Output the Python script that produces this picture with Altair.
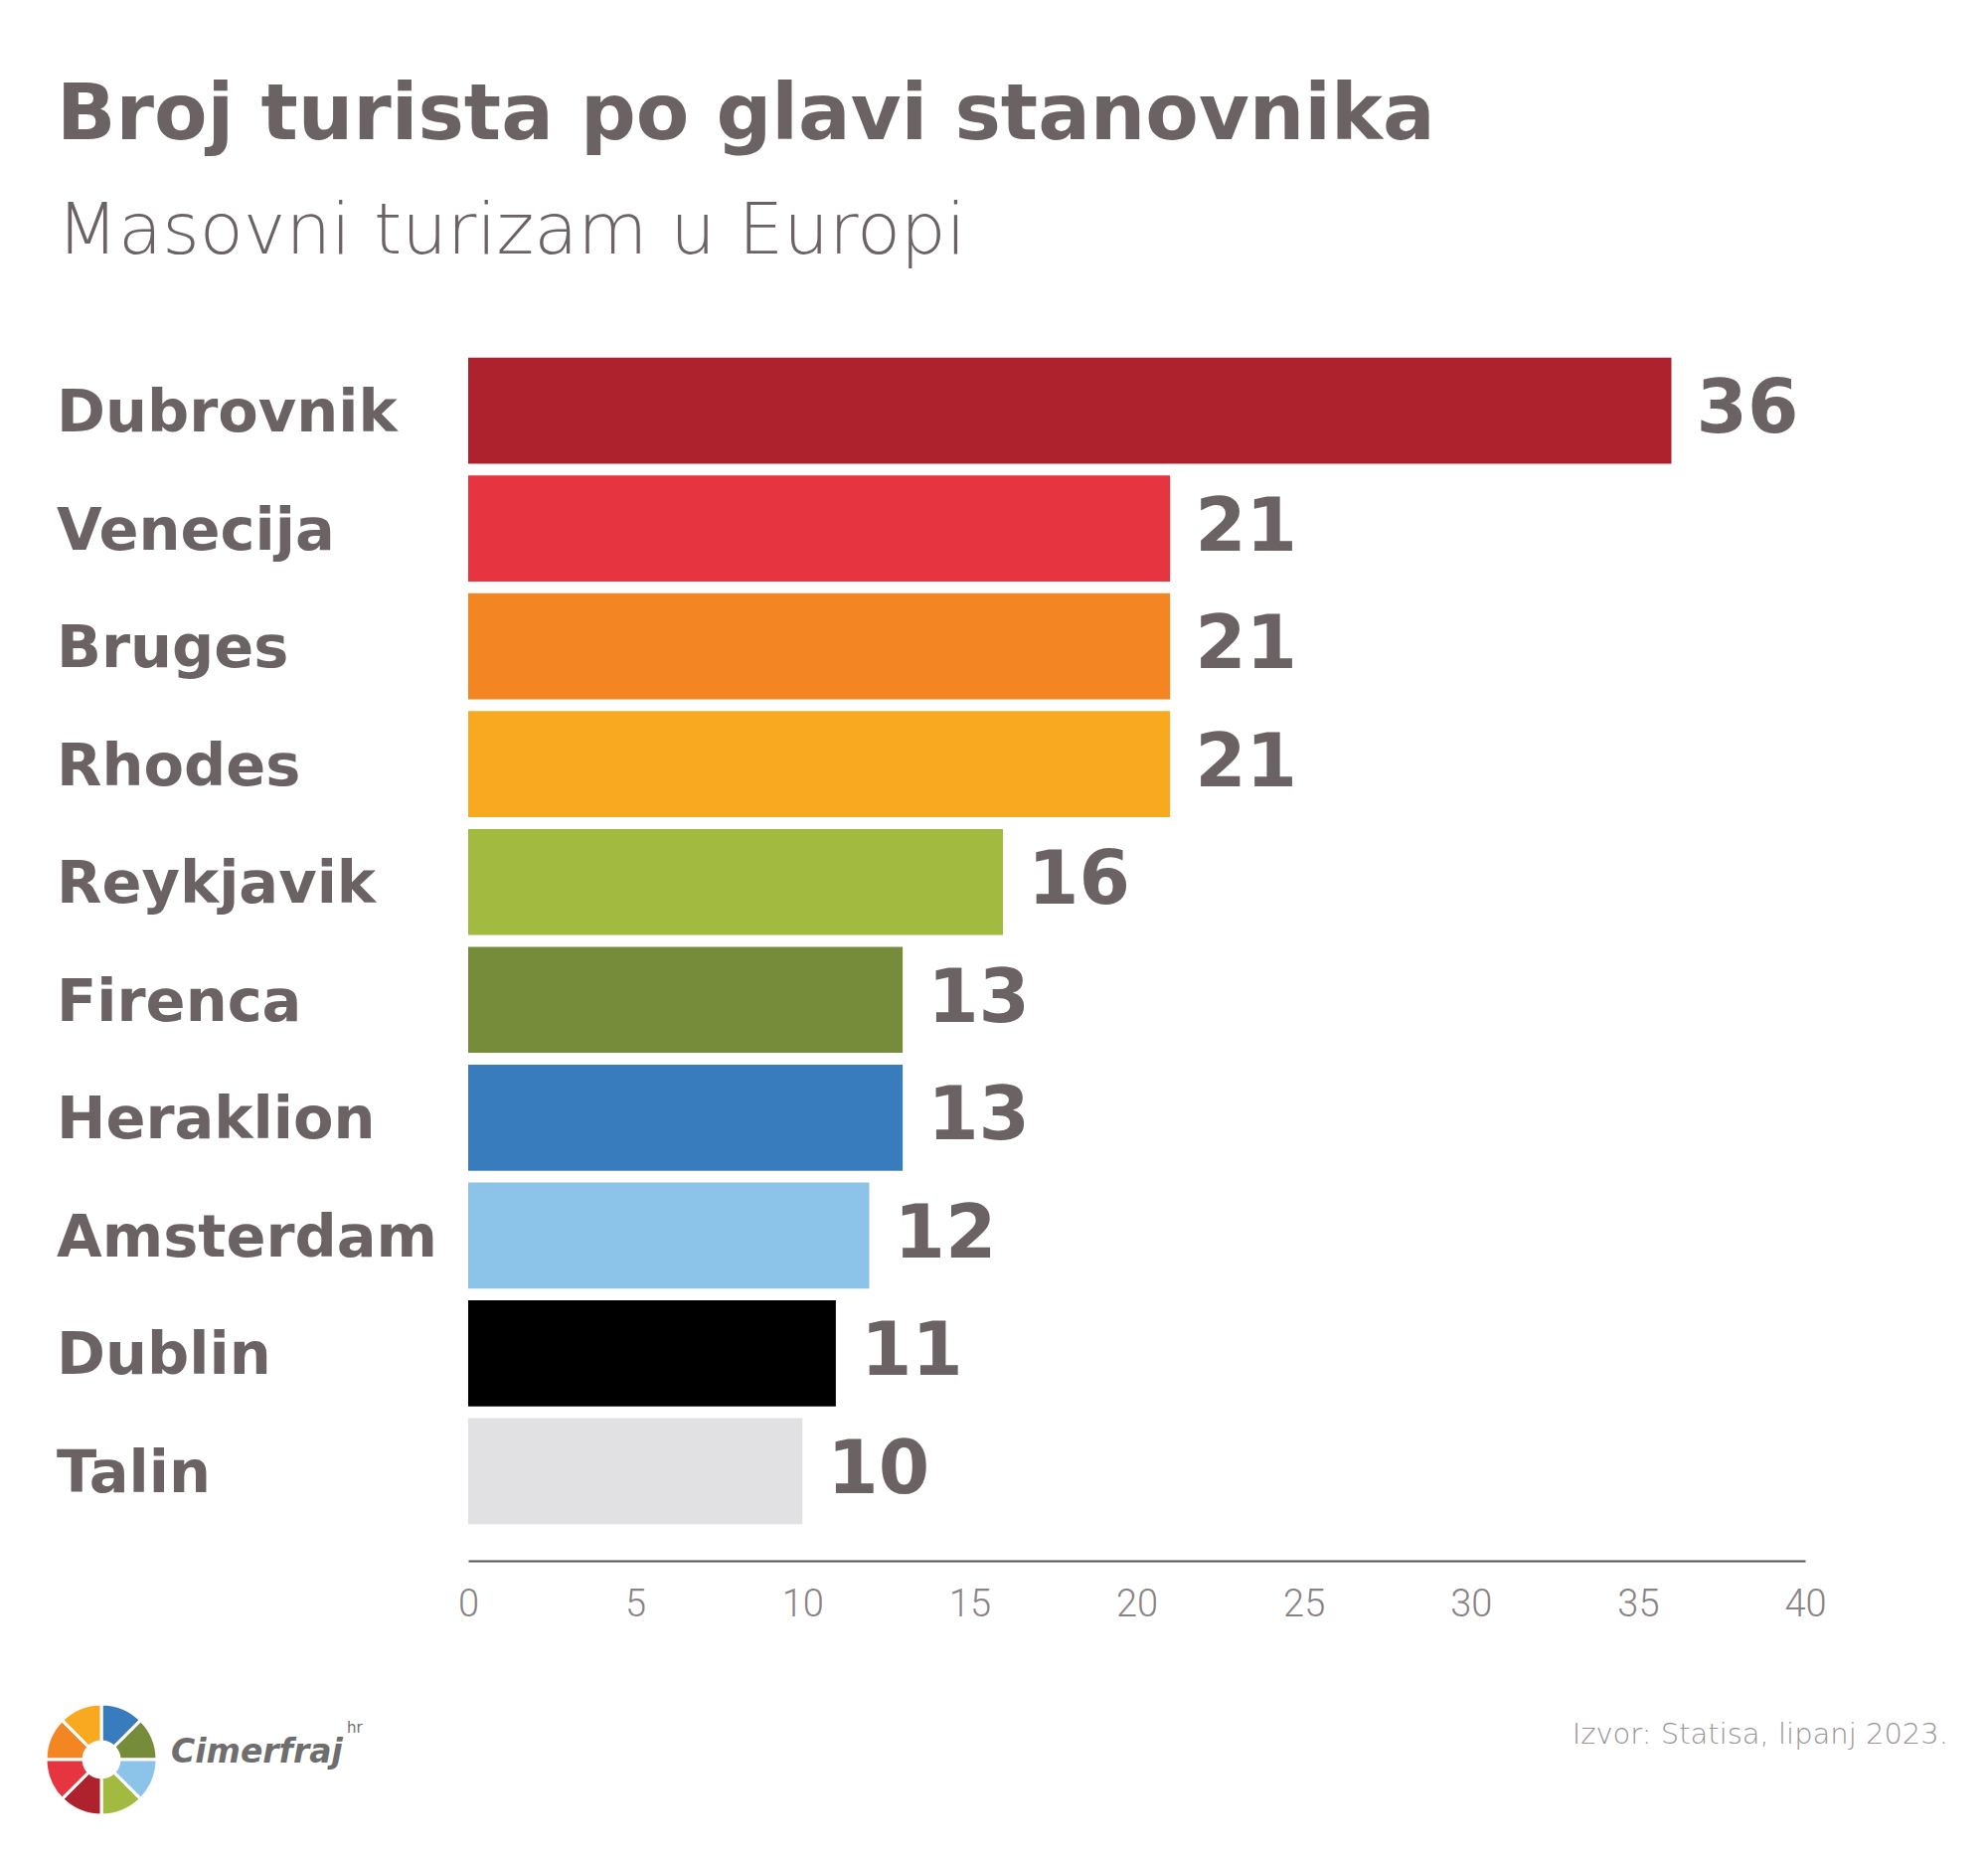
import altair as alt
import pandas as pd

# ---- data ----
cities = ["Dubrovnik", "Venecija", "Bruges", "Rhodes", "Reykjavik",
          "Firenca", "Heraklion", "Amsterdam", "Dublin", "Talin"]
values = [36, 21, 21, 21, 16, 13, 13, 12, 11, 10]
colors = ["#AD222D", "#E73441", "#F38522", "#F8A920", "#A1BA3F",
          "#768C3A", "#387CBE", "#8CC3E9", "#000000", "#E1E1E3"]
x_ticks = [0, 5, 10, 15, 20, 25, 30, 35, 40]

title_text = "Broj turista po glavi stanovnika"
subtitle_text = "Masovni turizam u Europi"
source_text = "Izvor: Statisa, lipanj 2023."
logo_text = "Cimerfraj"
logo_sup = "hr"
logo_colors = ["#387CBE", "#A1BA3F", "#768C3A", "#F38522", "#F8A920", "#AD222D", "#E73441", "#8CC3E9"]
logo_parts = [1, 1, 1, 1, 1, 1, 1, 1]

TEXT = "#6b6264"

df = pd.DataFrame({"city": cities, "value": values, "color": colors})

y = alt.Y("city:N", sort=cities, axis=None,
          scale=alt.Scale(paddingInner=0.1, paddingOuter=0.31))
x = alt.X("value:Q", scale=alt.Scale(domain=[0, 40]),
          axis=alt.Axis(values=x_ticks, title=None, grid=False, ticks=False,
                        domainColor="#555555", domainWidth=2, labelFlush=False,
                        labelFont="Roboto", labelFontWeight=300, labelFontSize=38,
                        labelColor="#8a8385", labelPadding=25))

base = alt.Chart(df)
bars = base.mark_bar().encode(x=x, y=y, color=alt.Color("color:N", scale=None))
vals = base.mark_text(align="left", baseline="middle", dx=25, font="DejaVu Sans",
                      fontWeight="bold", fontSize=74, color=TEXT).encode(
    x="value:Q", y=y, text="value:Q")
names = base.mark_text(align="left", baseline="middle", dy=3, font="DejaVu Sans",
                       fontWeight="bold", fontSize=59, color=TEXT).encode(
    x=alt.value(-414), y=y, text="city:N")


def txt(s, xv, yv, **kw):
    return alt.Chart(pd.DataFrame({"t": [s]})).mark_text(**kw).encode(
        x=alt.value(xv), y=alt.value(yv), text="t:N")


title = txt(title_text, -414, -183, align="left", baseline="alphabetic",
            font="DejaVu Sans", fontWeight="bold", fontSize=78, color=TEXT)
subtitle = txt(subtitle_text, -414, -68, align="left", baseline="alphabetic",
               font="DejaVu Sans", fontWeight=200, fontSize=72, color=TEXT)
source = txt(source_text, 1489, 1431, align="right", baseline="alphabetic",
             font="DejaVu Sans", fontWeight=200, fontSize=29, color="#9a9394")
logo_t = txt(logo_text, -299, 1450, align="left", baseline="alphabetic",
             font="DejaVu Sans", fontStyle="italic", fontWeight="bold",
             fontSize=33, color="#6e6e6e")
logo_s = txt(logo_sup, -122, 1420, align="left", baseline="alphabetic",
             font="DejaVu Sans", fontSize=15, color="#6e6e6e")

logo_df = pd.DataFrame({"p": logo_parts, "c": logo_colors})
logo = alt.Chart(logo_df).mark_arc(radius=56, innerRadius=18, stroke="white",
                                   strokeWidth=3).encode(
    theta=alt.Theta("p:Q", stack=True), color=alt.Color("c:N", scale=None),
    x=alt.value(-369), y=alt.value(1447))

chart = alt.layer(bars, vals, names, title, subtitle, source, logo, logo_t, logo_s).properties(
    width=1345, height=1247,
    autosize=alt.AutoSizeParams(type="none"),
    padding={"left": 463, "top": 315, "right": 176, "bottom": 288},
    background="white",
).configure_view(stroke=None)

chart.save("out.html", embed_options={"renderer": "svg", "actions": False})
